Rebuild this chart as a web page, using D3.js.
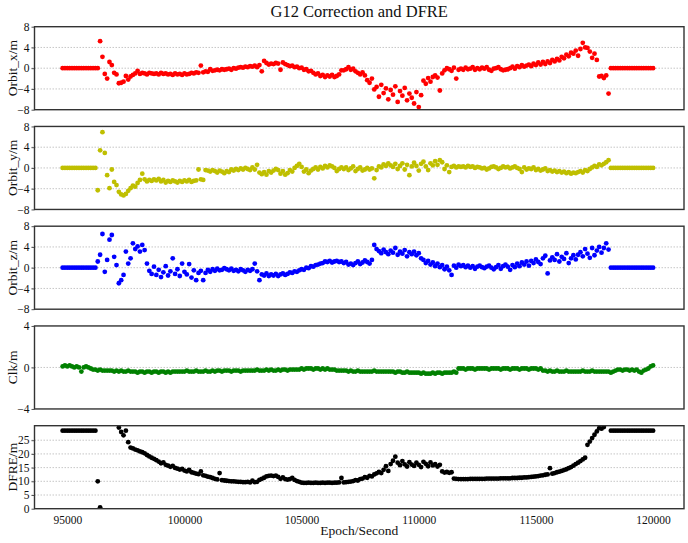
<!DOCTYPE html>
<html><head><meta charset="utf-8">
<script src="https://cdn.jsdelivr.net/npm/d3@7"></script>
<style>
body{margin:0;background:#fff}
svg{display:block}
text{font-family:"Liberation Serif","Times New Roman",serif;fill:#111}
</style>
</head><body>
<svg id="chart" width="688" height="543"></svg>
<script>
// ---------- DATA (epoch grid: 94800 .. 120000, every 100 s) ----------
const epochStart = 94800;
const epochStep = 100;

const orbitX = [
  0,0,0,0,0,0,0,0,0,0,
  0,0,0,0,0,0,5.2,2.2,-1.1,-2.0,
  1.2,0.6,-0.9,-1.2,-2.9,-2.8,-2.6,-1.5,-2.2,-1.6,
  -1.3,-1.0,-0.5,-1.1,-0.9,-1.0,-1.2,-0.9,-1.0,-1.1,
  -1.0,-1.2,-0.9,-1.1,-1.0,-1.2,-1.1,-1.3,-1.0,-1.2,
  -1.1,-1.3,-1.0,-1.2,-1.1,-0.9,-1.0,-0.8,-0.9,0.5,
  -0.8,-0.6,-0.7,-0.2,-0.5,-0.4,-0.3,-0.4,-0.2,-0.3,
  -0.2,-0.1,-0.3,0.0,-0.1,0.1,0.2,0.1,0.3,0.2,
  0.4,0.3,0.5,0.2,0.6,-0.6,1.4,1.0,0.7,0.9,
  0.8,1.0,0.9,-0.3,1.1,0.8,0.6,0.4,0.5,0.2,
  0.3,0.0,0.1,-0.3,-0.2,-0.6,-0.5,-0.9,-1.2,-1.0,
  -1.5,-1.3,-1.7,-1.4,-1.6,-1.3,-1.7,-1.5,-1.2,-0.4,
  -0.4,-0.2,0.2,-0.3,-0.1,-0.6,-0.9,-1.2,-0.8,-1.4,
  -2.3,-2.8,-2.0,-4.1,-3.6,-5.5,-3.2,-4.8,-3.9,-6.0,
  -4.2,-5.1,-3.5,-6.5,-4.4,-5.3,-3.8,-6.2,-4.9,-5.7,
  -6.8,-4.6,-7.5,-5.2,-2.4,-3.0,-1.9,-2.6,-1.7,-1.4,
  -1.8,-4.3,-1.0,-0.4,0.0,-0.2,-0.5,0.1,-2.0,-0.3,
  -0.1,-0.3,0.1,-0.2,-0.1,0.2,-0.3,0.0,-0.2,0.1,
  -0.1,0.2,-0.3,-0.5,-0.1,0.0,0.2,-0.2,-0.4,-0.3,
  -0.2,0.0,0.3,-0.1,0.4,0.2,0.6,0.3,0.5,0.7,
  0.4,0.9,0.6,1.1,0.7,1.2,0.8,1.3,1.0,1.6,
  1.3,1.8,1.5,2.2,1.9,2.6,2.3,3.0,2.8,3.4,
  2.4,3.7,4.9,4.0,3.9,3.2,2.0,2.8,1.6,-1.6,
  -1.5,-1.9,-1.4,-4.9,0,0,0,0,0,0,
  0,0,0,0,0,0,0,0,0,0,
  0,0,0
];

const orbitY = [
  0,0,0,0,0,0,0,0,0,0,
  0,0,0,0,0,-4.3,3.4,6.9,2.9,-1.4,
  -3.9,-0.3,-2.7,-3.3,-4.6,-5.1,-5.3,-5.0,-4.4,-3.9,
  -3.4,-3.6,-2.9,-2.3,-1.1,-2.2,-2.6,-2.3,-2.5,-2.2,
  -2.4,-2.1,-2.6,-2.3,-2.8,-2.5,-2.7,-2.4,-2.6,-2.8,
  -2.5,-2.7,-2.4,-2.6,-2.3,-2.7,-2.5,-2.4,-0.3,-2.2,
  -2.3,-0.4,-0.5,-0.7,-0.4,-0.6,-0.9,-0.5,-0.7,-1.0,
  -0.6,-0.8,-0.3,-0.5,-0.2,-0.4,-0.1,-0.3,0.0,-0.2,
  -0.4,0.1,-0.3,0.6,-0.9,-1.2,-0.8,-1.3,-0.6,-0.9,
  -0.5,-0.2,-0.4,-1.1,-0.6,-1.3,-1.0,-0.4,-0.7,0.0,
  0.4,0.8,0.2,-0.7,-0.3,-1.0,-0.5,-0.2,0.1,-0.3,
  0.2,-0.1,0.4,0.1,0.5,0.3,0.0,-0.6,-0.2,0.1,
  -0.2,0.1,-0.4,-0.1,0.3,-0.6,-0.2,0.1,-0.5,-0.3,
  0.0,-0.3,-0.1,-2.0,-0.4,0.3,0.1,0.7,0.4,0.9,
  0.5,0.2,0.8,-0.2,0.4,0.9,-0.3,0.6,-1.4,0.3,
  1.0,0.4,-0.5,0.8,1.2,0.3,-0.4,0.9,0.5,1.3,
  0.6,1.5,1.1,-0.2,0.5,-0.8,0.2,0.4,0.1,0.3,
  0.2,0.3,0.1,0.4,0.2,0.3,0.0,0.2,0.1,-0.1,
  0.0,-0.3,-0.1,0.2,0.3,0.1,-0.2,0.0,0.3,0.1,
  0.2,-0.1,0.1,0.3,0.0,-0.2,-0.8,0.1,-0.3,-0.1,
  -0.2,0.1,-0.4,-0.2,-0.5,-0.3,-0.1,-0.6,-0.4,-0.7,
  -0.5,-0.8,-0.6,-0.9,-0.7,-1.0,-0.8,-1.1,-0.9,-1.0,
  -0.8,-0.6,-0.9,-0.4,-0.6,-0.2,0.1,0.4,0.2,0.7,
  0.5,0.8,1.1,1.5,0,0,0,0,0,0,
  0,0,0,0,0,0,0,0,0,0,
  0,0,0
];

const orbitZ = [
  0,0,0,0,0,0,0,0,0,0,
  0,0,0,0,0,1.2,2.5,6.5,-0.8,1.5,
  5.4,6.3,2.1,0.5,-3.0,-2.4,-1.4,3.1,0.8,1.8,
  4.7,3.6,4.1,3.1,4.4,3.4,0.8,-0.6,-1.2,0.2,
  -1.4,-0.4,-1.8,-0.9,0.3,-1.5,-0.7,1.8,-1.2,-0.3,
  -1.6,0.8,-0.8,-1.3,0.7,-1.9,-0.5,-2.4,-1.0,-0.6,
  -2.4,-1.0,-0.4,-0.8,-0.3,-0.6,-0.2,-0.5,-0.4,-0.1,
  -0.3,-0.5,-0.2,-0.6,-0.4,-0.7,-0.3,-0.5,-0.8,-0.4,
  -0.6,-0.3,0.8,-0.7,-2.4,-1.3,-1.5,-1.1,-1.6,-1.3,
  -1.5,-1.2,-1.6,-1.3,-1.1,-1.4,-1.2,-0.9,-1.0,-0.7,
  -0.8,-0.5,-0.3,-0.4,0.0,-0.1,0.3,0.2,0.5,0.6,
  0.8,0.9,1.2,1.1,1.3,1.0,1.2,1.3,1.1,1.2,
  0.9,1.1,0.6,0.8,0.5,0.9,1.2,0.7,1.0,1.4,
  1.1,0.8,1.5,4.4,3.6,3.2,2.8,3.5,3.0,2.6,
  3.3,2.9,3.8,2.5,3.1,2.7,3.4,2.2,3.0,2.6,
  3.1,2.4,2.8,1.8,1.5,0.9,1.3,0.6,1.0,0.3,
  0.8,0.1,0.5,-0.3,0.2,-0.5,-1.4,0.4,0.0,0.6,
  0.3,0.5,0.1,0.4,0.0,0.3,-0.2,0.2,0.4,0.1,
  -0.1,0.2,0.4,0.0,-0.3,0.1,0.5,-0.2,0.3,0.6,
  0.2,-0.4,0.5,0.1,0.8,0.3,1.0,0.6,1.2,0.4,
  1.3,0.9,1.6,1.1,0.7,1.8,2.3,-1.1,1.4,2.0,
  1.5,2.6,1.2,2.1,1.7,2.8,0.9,1.8,2.4,1.6,
  2.5,3.0,2.2,3.6,2.7,1.9,3.8,2.4,3.3,4.0,
  2.9,3.8,4.7,3.5,0,0,0,0,0,0,
  0,0,0,0,0,0,0,0,0,0,
  0,0,0
];

const clk = [
  0.1,0.2,0.1,0.2,0.1,0.0,0.1,0.0,-0.4,0.0,
  0.1,0.0,-0.1,-0.2,-0.2,-0.3,-0.2,-0.3,-0.3,-0.3,
  -0.3,-0.3,-0.4,-0.3,-0.4,-0.3,-0.4,-0.4,-0.3,-0.4,
  -0.4,-0.4,-0.5,-0.4,-0.4,-0.5,-0.4,-0.4,-0.5,-0.4,
  -0.4,-0.5,-0.4,-0.4,-0.5,-0.4,-0.5,-0.4,-0.4,-0.4,
  -0.4,-0.4,-0.4,-0.3,-0.4,-0.4,-0.4,-0.3,-0.4,-0.4,
  -0.4,-0.3,-0.4,-0.4,-0.3,-0.4,-0.3,-0.3,-0.4,-0.3,
  -0.3,-0.3,-0.4,-0.3,-0.3,-0.3,-0.4,-0.3,-0.3,-0.3,
  -0.3,-0.3,-0.3,-0.2,-0.3,-0.3,-0.3,-0.2,-0.3,-0.2,
  -0.3,-0.3,-0.2,-0.3,-0.2,-0.2,-0.3,-0.2,-0.2,-0.2,
  -0.2,-0.2,-0.1,-0.2,-0.1,-0.1,-0.1,-0.2,-0.1,-0.1,
  -0.2,-0.1,-0.2,-0.1,-0.2,-0.2,-0.2,-0.3,-0.3,-0.3,
  -0.3,-0.3,-0.4,-0.3,-0.4,-0.4,-0.3,-0.4,-0.4,-0.4,
  -0.4,-0.4,-0.4,-0.3,-0.4,-0.4,-0.4,-0.4,-0.4,-0.4,
  -0.4,-0.4,-0.5,-0.4,-0.4,-0.5,-0.5,-0.4,-0.5,-0.5,
  -0.5,-0.5,-0.5,-0.6,-0.5,-0.6,-0.6,-0.6,-0.5,-0.6,
  -0.5,-0.5,-0.6,-0.5,-0.5,-0.5,-0.5,-0.4,-0.5,-0.1,
  -0.1,-0.1,-0.2,-0.1,-0.1,-0.1,-0.2,-0.1,-0.1,-0.1,
  -0.1,-0.1,-0.2,-0.1,-0.1,-0.1,-0.1,-0.2,-0.1,-0.1,
  -0.1,-0.2,-0.1,-0.1,-0.1,-0.2,-0.1,-0.1,-0.1,-0.2,
  -0.1,-0.1,-0.1,-0.2,-0.1,-0.3,-0.3,-0.4,-0.3,-0.4,
  -0.4,-0.3,-0.4,-0.4,-0.4,-0.3,-0.4,-0.4,-0.4,-0.4,
  -0.4,-0.4,-0.3,-0.4,-0.4,-0.4,-0.3,-0.4,-0.4,-0.4,
  -0.4,-0.4,-0.4,-0.4,-0.5,-0.4,-0.3,-0.2,-0.2,-0.3,
  -0.2,-0.2,-0.3,-0.2,-0.3,-0.2,-0.4,-0.5,-0.3,-0.2,
  -0.1,0.1,0.2
];

const dfre = [
  28.5,28.5,28.5,28.5,28.5,28.5,28.5,28.5,28.5,28.5,
  28.5,28.5,28.5,28.5,28.5,10.0,0.5,null,null,null,
  null,null,null,null,29.6,28.0,26.8,28.5,24.3,22.3,
  22.0,21.6,21.3,20.9,20.6,20.2,19.6,19.1,18.6,18.2,
  17.7,17.2,16.6,16.9,16.0,15.7,15.3,15.6,14.9,14.6,
  14.3,14.5,13.9,13.6,14.2,13.3,13.1,12.8,12.6,13.6,
  12.2,12.0,11.7,11.5,11.2,10.9,10.7,13.0,10.4,10.3,
  10.2,10.1,10.0,10.0,9.9,9.8,9.8,9.7,9.7,9.8,
  9.6,10.2,9.7,9.8,10.5,10.9,11.3,11.8,12.0,12.1,
  11.9,12.1,11.6,10.9,11.4,10.8,10.6,10.8,11.2,10.5,
  10.1,9.8,9.5,9.4,9.4,9.5,9.4,9.4,9.5,9.4,
  9.4,9.5,9.4,9.5,9.5,9.4,9.5,9.5,9.6,11.2,
  9.6,9.7,9.8,9.9,10.1,10.4,10.3,10.8,11.0,11.5,
  11.3,12.0,11.8,12.5,12.9,13.4,13.0,14.2,15.5,13.8,
  16.3,17.5,19.0,16.8,15.9,17.4,16.2,15.4,17.0,16.1,
  15.6,16.8,16.0,15.2,17.1,16.4,15.5,16.9,15.8,16.3,
  15.4,16.0,13.6,13.2,13.4,13.1,13.3,11.0,10.9,10.8,
  10.8,10.8,10.8,10.8,10.9,10.9,10.9,10.9,10.9,10.9,
  10.9,11.0,11.0,11.0,11.0,11.0,11.0,11.1,11.1,11.1,
  11.1,11.1,11.2,11.2,11.2,11.3,11.3,11.4,11.4,11.5,
  11.6,11.7,11.8,11.9,12.1,12.2,12.4,12.5,14.8,12.8,
  13.0,13.3,13.5,13.8,14.1,14.4,14.8,15.2,15.7,16.3,
  16.8,17.4,18.0,18.6,23.3,24.5,25.8,27.0,28.2,29.4,
  29.2,29.8,null,null,28.5,28.5,28.5,28.5,28.5,28.5,
  28.5,28.5,28.5,28.5,28.5,28.5,28.5,28.5,28.5,28.5,
  28.5,28.5,28.5
];

const seriesLabels = ["Orbit_x/m","Orbit_y/m","Orbit_z/m","Clk/m","DFRE/m"];
const orbitTicks = [-8,-4,0,4,8];
const clkTicks = [-4,0,4];
const dfreTicks = [0,5,10,15,20,25];
const xTicks = [95000,100000,105000,110000,115000,120000];
const titleText = "G12 Correction and DFRE";
const xLabelText = "Epoch/Second";

// ---------- LAYOUT / STYLE ----------
const W = 688, H = 543;
const left = 34.5, right = 684;
const panelTop0 = 26.7, panelPitch = 99.75, panelH = 83;

const panels = [
  {values: orbitX, color: "#ff0000", domain: [-8, 8], ticks: orbitTicks},
  {values: orbitY, color: "#bfbf00", domain: [-8, 8], ticks: orbitTicks},
  {values: orbitZ, color: "#0000ff", domain: [-8, 8], ticks: orbitTicks},
  {values: clk,    color: "#008000", domain: [-4, 4], ticks: clkTicks},
  {values: dfre,   color: "#000000", domain: [0, 30.3], ticks: dfreTicks}
];

const svg = d3.select("#chart");
svg.append("rect").attr("width", W).attr("height", H).attr("fill", "#fff");

const x = d3.scaleLinear().domain([93600, 121320]).range([left, right]);

svg.append("text")
  .attr("x", (left + right) / 2).attr("y", 17)
  .attr("text-anchor", "middle").attr("font-size", 16.5)
  .text(titleText);

panels.forEach((p, i) => {
  const top = panelTop0 + i * panelPitch;
  const bottom = top + panelH;
  const y = d3.scaleLinear().domain(p.domain).range([bottom, top]);
  const g = svg.append("g");

  const clipId = "clip" + i;
  svg.append("clipPath").attr("id", clipId)
    .append("rect").attr("x", left).attr("y", top).attr("width", right - left).attr("height", panelH);

  g.append("g").selectAll("line")
    .data(p.ticks.filter(t => t > p.domain[0] && t < p.domain[1]))
    .join("line")
    .attr("x1", left - 3).attr("x2", right)
    .attr("y1", d => y(d)).attr("y2", d => y(d))
    .attr("stroke", "#b8b8b8").attr("stroke-width", 0.8)
    .attr("stroke-dasharray", "1.5,1.5");

  const yAxis = d3.axisLeft(y).tickValues(p.ticks).tickSize(3).tickPadding(2)
    .tickFormat(d3.format("d"));
  const ya = g.append("g").attr("transform", `translate(${left},0)`).call(yAxis);
  ya.select(".domain").remove();
  ya.selectAll(".tick line").attr("stroke", "#555");
  ya.selectAll(".tick text")
    .attr("font-family", "'Liberation Serif','Times New Roman',serif")
    .attr("font-size", 11.5).attr("fill", "#111");

  const pts = p.values.map((v, k) => ({e: epochStart + k * epochStep, v}))
    .filter(d => d.v !== null);
  g.append("g").attr("clip-path", `url(#${clipId})`)
    .selectAll("circle").data(pts).join("circle")
    .attr("cx", d => x(d.e)).attr("cy", d => y(d.v))
    .attr("r", 2.4).attr("fill", p.color);

  g.append("rect").attr("x", left).attr("y", top)
    .attr("width", right - left).attr("height", panelH)
    .attr("fill", "none").attr("stroke", "#333").attr("stroke-width", 1.4);

  g.append("text")
    .attr("transform", `translate(12,${(top + bottom) / 2}) rotate(-90)`)
    .attr("text-anchor", "middle").attr("dominant-baseline", "central")
    .attr("font-size", 13.5)
    .text(seriesLabels[i]);

  if (i === panels.length - 1) {
    const xAxis = d3.axisBottom(x).tickValues(xTicks).tickSize(0).tickPadding(7)
      .tickFormat(d3.format("d"));
    const xa = g.append("g").attr("transform", `translate(0,${bottom})`).call(xAxis);
    xa.select(".domain").remove();
    xa.selectAll(".tick text")
      .attr("font-family", "'Liberation Serif','Times New Roman',serif")
      .attr("font-size", 11.5).attr("fill", "#111");
    svg.append("text")
      .attr("x", (left + right) / 2).attr("y", 535)
      .attr("text-anchor", "middle").attr("font-size", 13.5)
      .text(xLabelText);
  }
});
</script>
</body></html>
